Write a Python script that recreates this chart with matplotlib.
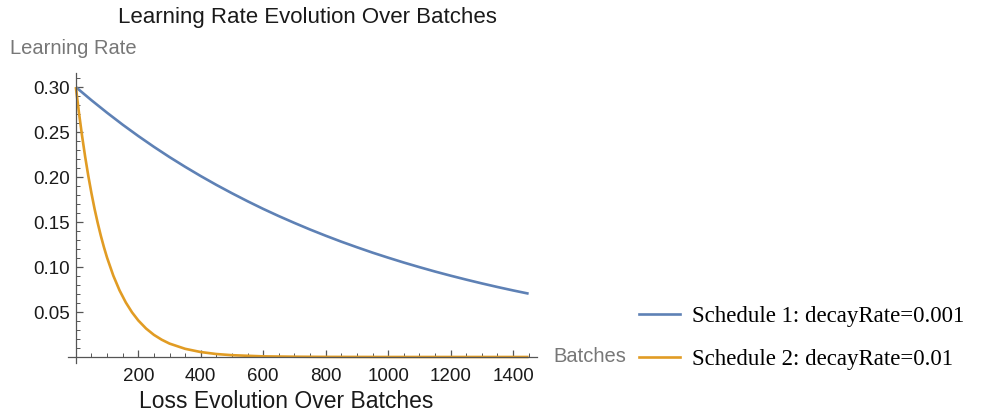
import matplotlib
matplotlib.use("Agg")
import matplotlib.pyplot as plt
from matplotlib.ticker import MultipleLocator, FixedLocator
from matplotlib.lines import Line2D

# values
batches_1 = [0, 50, 100, 150, 200, 250, 300, 350, 400, 450, 500, 550, 600, 650, 700,
             750, 800, 850, 900, 950, 1000, 1050, 1100, 1150, 1200, 1250, 1300, 1350, 1400, 1450]
rate_1 = [0.300, 0.2854, 0.2715, 0.2582, 0.2456, 0.2336, 0.2222, 0.2114, 0.2011, 0.1913,
          0.1820, 0.1731, 0.1646, 0.1566, 0.1490, 0.1417, 0.1348, 0.1282, 0.1220, 0.1160,
          0.1104, 0.1050, 0.0999, 0.0950, 0.0904, 0.0860, 0.0818, 0.0778, 0.0740, 0.0704]

batches_2 = [0, 10, 20, 30, 40, 50, 60, 70, 80, 90, 100, 120, 140, 160, 180, 200, 225, 250,
             275, 300, 350, 400, 450, 500, 600, 700, 800, 1000, 1450]
rate_2 = [0.300, 0.2715, 0.2456, 0.2222, 0.2011, 0.1820, 0.1646, 0.1490, 0.1348, 0.1220,
          0.1104, 0.0904, 0.0740, 0.0606, 0.0496, 0.0406, 0.0316, 0.0246, 0.0192, 0.0149,
          0.0091, 0.0055, 0.0033, 0.0020, 0.0007, 0.0003, 0.0001, 0.0, 0.0]

labels = ["Schedule 1: decayRate=0.001", "Schedule 2: decayRate=0.01"]
colors = ["#5E81B5", "#E19C24"]
xticks = [200, 400, 600, 800, 1000, 1200, 1400]
yticks = [0.05, 0.10, 0.15, 0.20, 0.25, 0.30]

plt.rcParams["font.family"] = ["Liberation Sans", "DejaVu Sans"]

fig = plt.figure(figsize=(9.86, 4.17), dpi=100)
ax = fig.add_axes([0.069, 0.1288, 0.4757, 0.696])

ax.plot(batches_1, rate_1, color=colors[0], lw=1.9, clip_on=False, solid_capstyle="butt")
ax.plot(batches_2, rate_2, color=colors[1], lw=1.9, clip_on=False, solid_capstyle="butt")

ax.set_xlim(-25, 1477)
ax.set_ylim(-0.007, 0.3156)

for s in ["top", "right"]:
    ax.spines[s].set_visible(False)
ax.spines["left"].set_position(("data", 0))
ax.spines["bottom"].set_position(("data", 0))
for s in ["left", "bottom"]:
    ax.spines[s].set_color("#555555")
    ax.spines[s].set_linewidth(0.9)

ax.xaxis.set_major_locator(FixedLocator(xticks))
ax.xaxis.set_minor_locator(MultipleLocator(50))
ax.yaxis.set_major_locator(FixedLocator(yticks))
ax.yaxis.set_minor_locator(MultipleLocator(0.01))
ax.set_xticklabels([str(t) for t in xticks])
ax.set_yticklabels(["%.2f" % t for t in yticks])
ax.tick_params(which="major", direction="in", length=5, width=0.9, color="#555555",
               labelsize=13.5, labelcolor="#1a1a1a")
ax.tick_params(which="minor", direction="in", length=2.8, width=0.7, color="#555555")
ax.tick_params(axis="x", pad=8)
ax.tick_params(axis="y", pad=4)

# axis labels placed like the original
fig.text(10 / 986, 1 - 48 / 417, "Learning Rate", color="#777777", fontsize=14.5,
         ha="left", va="center")
fig.text(553 / 986, 1 - 357 / 417, "Batches", color="#777777", fontsize=14.5,
         ha="left", va="center")

fig.text(307 / 986, 1 - 18 / 417, "Learning Rate Evolution Over Batches", fontsize=16,
         ha="center", va="center", color="#1a1a1a")
fig.text(286 / 986, 1 - 402 / 417, "Loss Evolution Over Batches", fontsize=16.5,
         ha="center", va="center", color="#1a1a1a")

handles = [Line2D([], [], color=c, lw=1.9) for c in colors]
fig.legend(handles, labels, loc="center left", bbox_to_anchor=(628 / 986, 1 - 338 / 417),
           frameon=False, prop={"family": "Liberation Serif", "size": 16.5},
           handlelength=1.75, handletextpad=0.55, labelspacing=1.0, borderpad=0)

fig.savefig("out.png", dpi=100)
